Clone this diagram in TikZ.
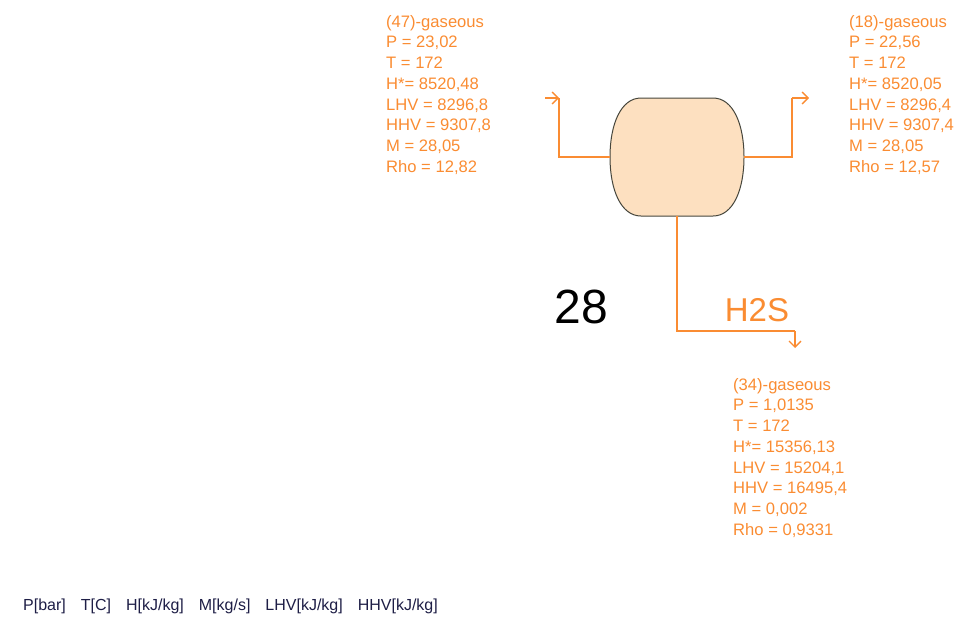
\documentclass[tikz,border=0pt]{standalone}
\usepackage{fontspec}
\setmainfont{Liberation Sans}
\usetikzlibrary{arrows.meta,positioning}
\definecolor{streamorange}{RGB}{250,140,50}
\definecolor{vesselfill}{RGB}{253,224,192}
\definecolor{vesseledge}{RGB}{70,70,60}
\definecolor{legendblue}{RGB}{30,30,70}

\begin{document}
\begin{tikzpicture}[
    x=1pt, y=-1pt,
    stream/.style={draw=streamorange, line width=1.3pt},
    flow/.style={stream, -{Straight Barb[length=6pt,width=12pt]}},
    info/.style={text=streamorange, font=\fontsize{16.6}{20.7}\selectfont, align=left, anchor=north west, inner sep=0pt},
    vessel/.style={draw=vesseledge, fill=vesselfill, line width=1pt}
]
\useasboundingbox (0,0) rectangle (957,619);

% separator vessel
\node[minimum width=134pt, minimum height=118pt, inner sep=0pt] (sep) at (677,157) {};
\draw[vessel] (641,98) -- (713,98) .. controls (733,98) and (744,124) .. (744,157)
    .. controls (744,190) and (733,216) .. (713,216) -- (641,216)
    .. controls (621,216) and (610,190) .. (610,157)
    .. controls (610,124) and (621,98) .. (641,98) -- cycle;

% stream ends
\coordinate (in47) at (545,98);
\coordinate (in47turn) at (559,98);
\coordinate (out18turn) at (792,98);
\coordinate (out18) at (809,98);
\coordinate (out34turn) at (795,331);
\coordinate (out34) at (795,348);

\draw[flow] (in47) -- (in47turn);
\draw[stream] (in47turn) |- (sep.west);
\draw[stream] (sep.east) -| (out18turn);
\draw[flow] (out18turn) -- (out18);
\draw[stream] (sep.south) |- (out34turn);
\draw[flow] (out34turn) -- (out34);

% stream data
\node[info] (s47) at (386,15) {(47)-gaseous\\P = 23,02\\T = 172\\H*= 8520,48\\LHV = 8296,8\\HHV = 9307,8\\M = 28,05\\Rho = 12,82};
\node[info] (s18) at (849,15) {(18)-gaseous\\P = 22,56\\T = 172\\H*= 8520,05\\LHV = 8296,4\\HHV = 9307,4\\M = 28,05\\Rho = 12,57};
\node[info] (s34) at (733,378) {(34)-gaseous\\P = 1,0135\\T = 172\\H*= 15356,13\\LHV = 15204,1\\HHV = 16495,4\\M = 0,002\\Rho = 0,9331};

% labels
\node[font=\fontsize{48}{48}\selectfont] (unitno) at (581,307) {28};
\node[text=streamorange, font=\fontsize{33}{33}\selectfont] (h2s) at (757,310) {H2S};
\node[text=legendblue, font=\fontsize{16}{18}\selectfont, anchor=west, inner sep=0pt] (legend) at (23,606)
    {P[bar]\hspace{15pt}T[C]\hspace{15pt}H[kJ/kg]\hspace{15pt}M[kg/s]\hspace{15pt}LHV[kJ/kg]\hspace{15pt}HHV[kJ/kg]};
\end{tikzpicture}
\end{document}
